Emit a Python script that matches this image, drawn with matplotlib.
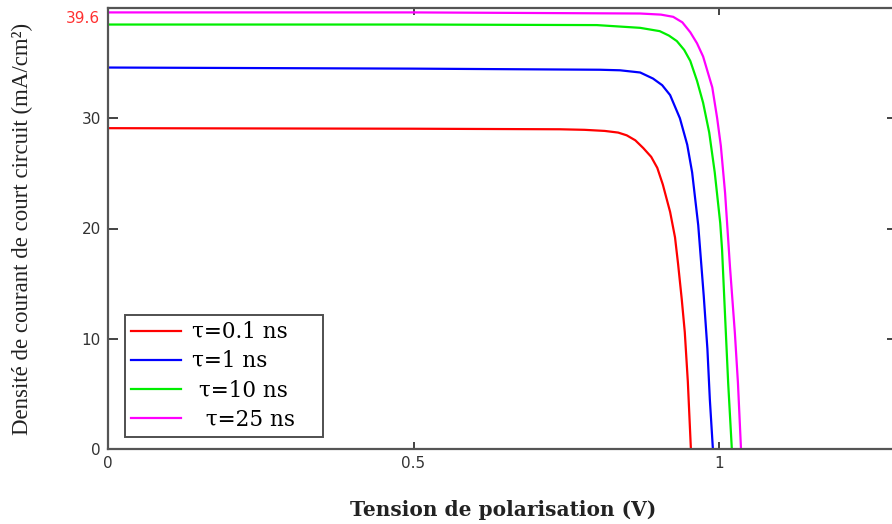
import matplotlib

matplotlib.use("Agg")
import matplotlib.pyplot as plt
import matplotlib.transforms as mtransforms

# Values (V in volts, J in mA/cm^2)
v_01 = [0, 0.5, 0.74, 0.78, 0.813, 0.835, 0.849, 0.863, 0.876, 0.889, 0.899, 0.908, 0.920, 0.928, 0.933, 0.939, 0.944, 0.949, 0.954]
j_01 = [29.1, 29.05, 29.0, 28.95, 28.85, 28.7, 28.45, 28.0, 27.3, 26.5, 25.5, 24.0, 21.5, 19.2, 16.8, 13.6, 10.6, 6.1, 0]

v_1 = [0, 0.5, 0.805, 0.838, 0.871, 0.892, 0.907, 0.920, 0.936, 0.948, 0.956, 0.966, 0.975, 0.981, 0.985, 0.990]
j_1 = [34.6, 34.5, 34.4, 34.35, 34.15, 33.6, 33.0, 32.1, 30.0, 27.6, 25.1, 20.3, 13.9, 9.1, 4.5, 0]

v_10 = [0, 0.5, 0.80, 0.871, 0.903, 0.918, 0.931, 0.943, 0.953, 0.964, 0.974, 0.984, 0.993, 1.002, 1.005, 1.010, 1.015, 1.021]
j_10 = [38.5, 38.5, 38.45, 38.2, 37.9, 37.5, 37.0, 36.2, 35.2, 33.4, 31.4, 28.7, 25.1, 20.5, 18.1, 12.0, 6.0, 0]

v_25 = [0, 0.5, 0.871, 0.905, 0.925, 0.940, 0.953, 0.964, 0.974, 0.989, 0.997, 1.003, 1.010, 1.018, 1.026, 1.031, 1.036]
j_25 = [39.6, 39.6, 39.5, 39.4, 39.2, 38.7, 37.8, 36.8, 35.6, 32.8, 30.0, 27.5, 23.2, 16.5, 10.5, 6.0, 0]

labels = ["\u03c4=0.1 ns", "\u03c4=1 ns", " \u03c4=10 ns", "  \u03c4=25 ns"]
colors = ["#ff0000", "#0000ff", "#00ee00", "#ff00ff"]

y_ticks = [0, 10, 20, 30]
x_ticks = [0, 0.5, 1]
jsc_marker = 39.6

fig = plt.figure(figsize=(8.92, 5.24), dpi=100)
ax = fig.add_axes([108 / 892, 1 - 449 / 524, 789 / 892, 441 / 524])

series = [(v_01, j_01), (v_1, j_1), (v_10, j_10), (v_25, j_25)]
for (v, j), lab, col in zip(series, labels, colors):
    ax.plot(v, j, color=col, lw=1.6, label=lab)

ax.set_xlim(0, 789 / 611)
ax.set_ylim(0, 40)
ax.set_xticks(x_ticks)
ax.set_xticklabels(["0", "0.5", "1"])
ax.set_yticks(y_ticks)
ax.tick_params(direction="in", length=7, width=1.2, color="#222222",
               labelsize=11, labelcolor="#333333", pad=5,
               top=True, right=True)
ax.tick_params(axis="x", which="both", top=True, length=5)
for s in ax.spines.values():
    s.set_color("#555555")
    s.set_linewidth(1.6)

# Jsc marker label on the left axis
trans = mtransforms.blended_transform_factory(ax.transAxes, ax.transData)
ax.text(-0.01, jsc_marker + 0.1, "39.6", transform=trans, ha="right", va="top",
        color="#ff3030", fontsize=11)

ax.set_ylabel("Densit\u00e9 de courant de court circuit (mA/cm\u00b2)",
              family="Liberation Serif", fontsize=16.5, color="#222222")
ax.yaxis.label.set_va("center")
ax.yaxis.set_label_coords(-86 / 789, 0.5)
ax.set_xlabel("Tension de polarisation (V)", family="DejaVu Serif",
              fontsize=14.5, fontweight="bold", color="#222222")
ax.xaxis.label.set_va("center")
ax.xaxis.set_label_coords(395 / 789, -61 / 441)

leg = ax.legend(loc="lower left", bbox_to_anchor=(17 / 789, 12 / 441, 198 / 789, 120 / 441),
                mode="expand", borderaxespad=0,
                prop={"family": "DejaVu Serif", "size": 15.5},
                frameon=True, fancybox=False, handlelength=2.3, handletextpad=0.5,
                labelspacing=0.33, borderpad=0.3)
leg.get_frame().set_edgecolor("#222222")
leg.get_frame().set_linewidth(1.4)

fig.savefig("out.png", dpi=100)
